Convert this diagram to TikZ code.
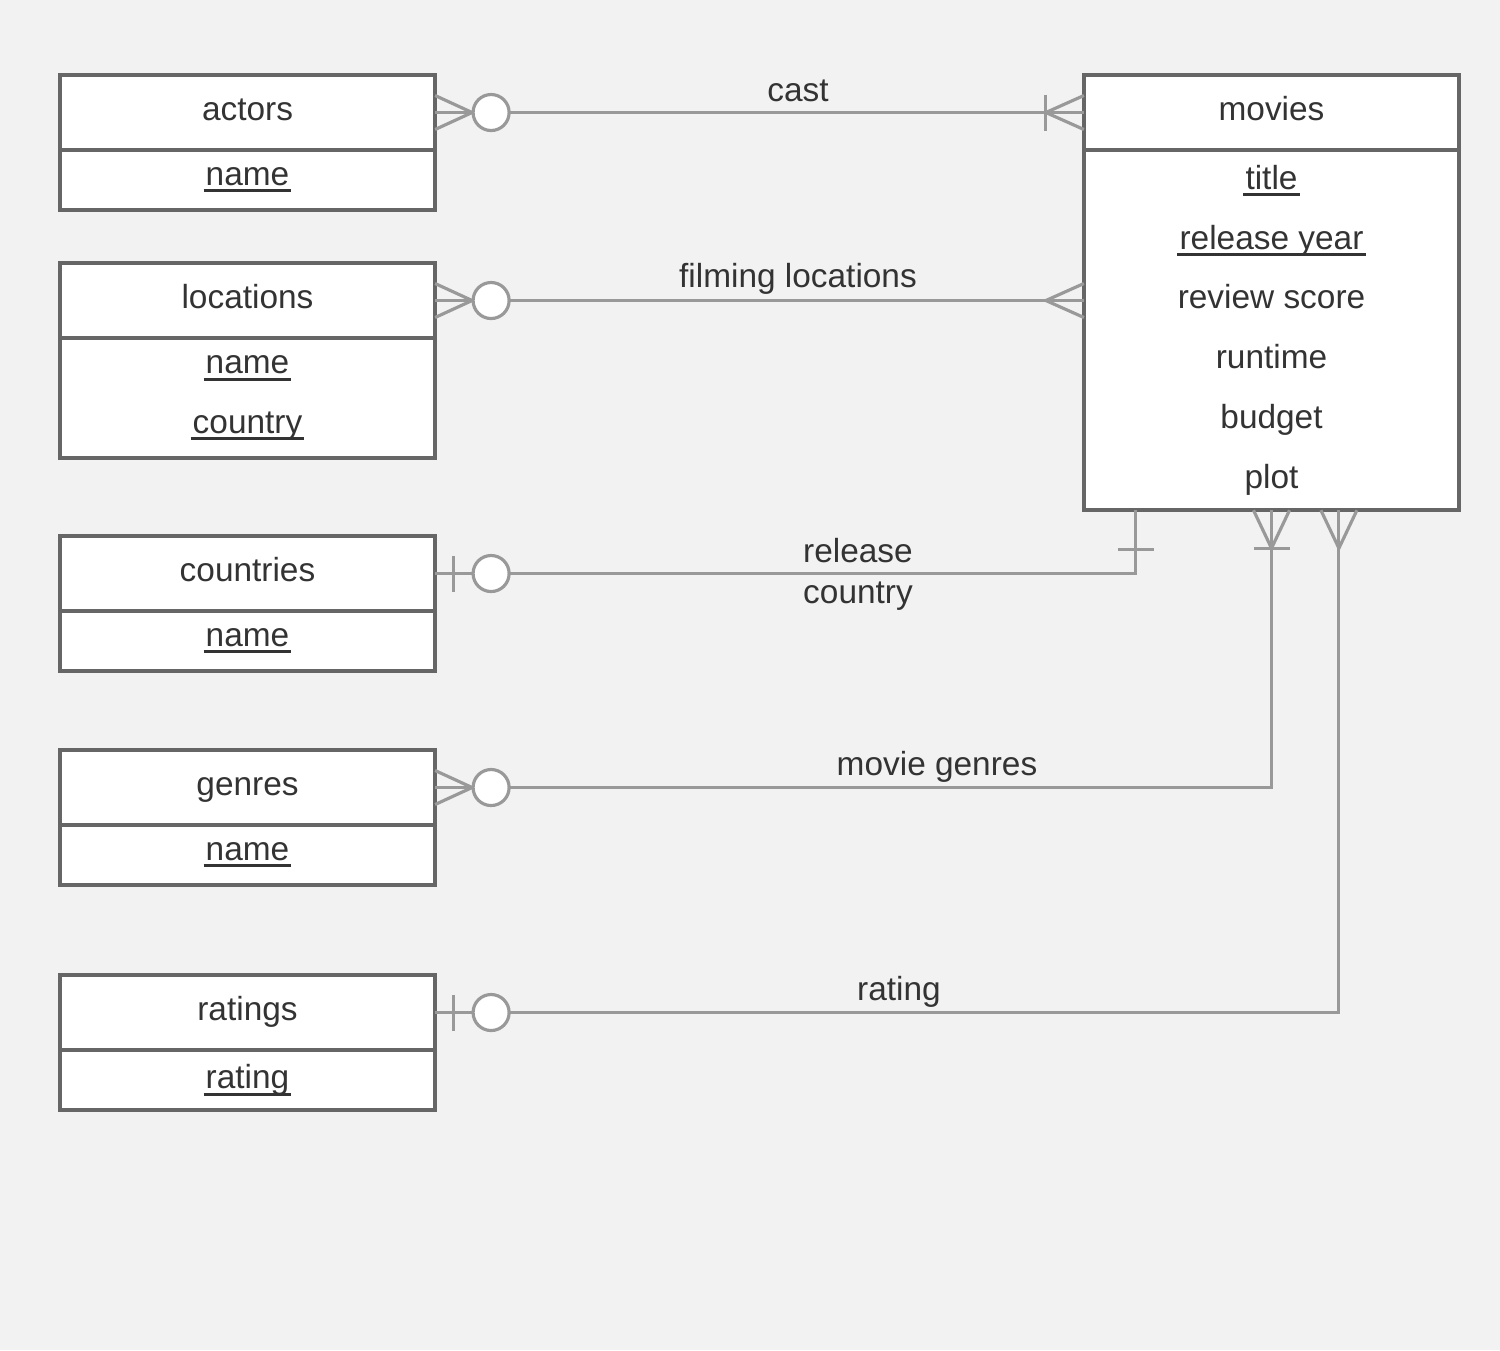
\documentclass[tikz,border=0pt]{standalone}
\usepackage{fontspec}
\setmainfont{Liberation Sans}
\usetikzlibrary{positioning}
\usetikzlibrary{calc}

\definecolor{bggray}{HTML}{F2F2F2}
\definecolor{boxgray}{HTML}{666666}
\definecolor{linkgray}{HTML}{999999}
\definecolor{txtgray}{HTML}{333333}

% key attributes: thick underline through the descenders
\newcommand{\keyattr}[1]{\leavevmode\setbox0=\hbox{#1}\rlap{\hskip-0.6pt\vrule width\dimexpr\wd0+1.2pt\relax height -1.1pt depth 1.95pt}\box0}

\tikzset{
	entity/.style={rectangle,draw=boxgray,fill=white,line width=1pt,minimum width=3.75cm,minimum height=0.75cm,inner sep=0pt,outer sep=0pt,text=txtgray,align=center,font=\fontsize{9.5}{17}\selectfont,text height=0.8em,text depth=0.35em},
	attrs/.style={entity,minimum height=0.6cm,text height=,text depth=},
	rel/.style={draw=linkgray,line width=0.9pt},
	opt/.style={circle,draw=linkgray,fill=white,line width=0.9pt,minimum size=0.36cm,inner sep=0pt},
	lbl/.style={text=txtgray,align=center,font=\fontsize{9.5}{11.7}\selectfont},
}

\begin{document}
\begin{tikzpicture}[x=0.01cm,y=-0.01cm]
	%background
	\fill[bggray] (0,0) rectangle (1500,1350);
	\useasboundingbox (0,0) rectangle (1500,1350);

	%entities
	\node[entity] (actors) at (247.5,112.5) {actors};
	\node[attrs,below=0pt of actors] (actorsattr) {\keyattr{name}};
	\node[entity] (locations) at (247.5,300.5) {locations};
	\node[attrs,minimum height=1.2cm,below=0pt of locations] (locationsattr) {\keyattr{name}\\\keyattr{country}};
	\node[entity] (countries) at (247.5,573.5) {countries};
	\node[attrs,below=0pt of countries] (countriesattr) {\keyattr{name}};
	\node[entity] (genres) at (247.5,787.5) {genres};
	\node[attrs,below=0pt of genres] (genresattr) {\keyattr{name}};
	\node[entity] (ratings) at (247.5,1012.5) {ratings};
	\node[attrs,below=0pt of ratings] (ratingsattr) {\keyattr{rating}};
	\node[entity] (movies) at (1271.5,112.5) {movies};
	\node[attrs,minimum height=3.6cm,below=0pt of movies] (moviesattr) {\keyattr{title}\\\keyattr{release year}\\review score\\runtime\\budget\\plot};

	%ends at movies
	\coordinate (flend) at (locations.east -| moviesattr.west);
	\coordinate (rcend) at ($(moviesattr.south west)+(52,0)$);
	\coordinate (rtend) at ($(moviesattr.south west)+(255,0)$);

	%relationships
	\draw[rel] (actors.east) -- (movies.west);
	\draw[rel] (locations.east) -- (flend);
	\draw[rel] (countries.east) -| (rcend);
	\draw[rel] (genres.east) -| (moviesattr.south);
	\draw[rel] (ratings.east) -| (rtend);

	%zero or many
	\foreach \e in {actors,locations,genres}{
		\draw[rel] ($(\e.east)+(0,-17)$) -- ($(\e.east)+(37,0)$) -- ($(\e.east)+(0,17)$);
		\node[opt] (\e opt) at ($(\e.east)+(56,0)$) {};
	}
	%zero or one
	\foreach \e in {countries,ratings}{
		\draw[rel] ($(\e.east)+(18,-18)$) -- ($(\e.east)+(18,18)$);
		\node[opt] (\e opt) at ($(\e.east)+(56,0)$) {};
	}

	%movies side
	\draw[rel] ($(movies.west)+(0,-17)$) -- ($(movies.west)+(-38,0)$) -- ($(movies.west)+(0,17)$);
	\draw[rel] ($(movies.west)+(-38,-18)$) -- ($(movies.west)+(-38,18)$);
	\draw[rel] ($(flend)+(0,-17)$) -- ($(flend)+(-38,0)$) -- ($(flend)+(0,17)$);
	\draw[rel] ($(rcend)+(-18,39)$) -- ($(rcend)+(18,39)$);
	\draw[rel] ($(moviesattr.south)+(-18,0)$) -- ($(moviesattr.south)+(0,38)$) -- ($(moviesattr.south)+(18,0)$);
	\draw[rel] ($(moviesattr.south)+(-18,38)$) -- ($(moviesattr.south)+(18,38)$);
	\draw[rel] ($(rtend)+(-18,0)$) -- ($(rtend)+(0,38)$) -- ($(rtend)+(18,0)$);

	%labels
	\node[lbl] (castlbl) at (798,91) {cast};
	\node[lbl] (fllbl) at (798,279) {filming locations};
	\node[lbl] (rclbl) at (858,574) {release\\country};
	\node[lbl] (mglbl) at (937,767) {movie genres};
	\node[lbl] (rtlbl) at (899,992) {rating};
\end{tikzpicture}
\end{document}
